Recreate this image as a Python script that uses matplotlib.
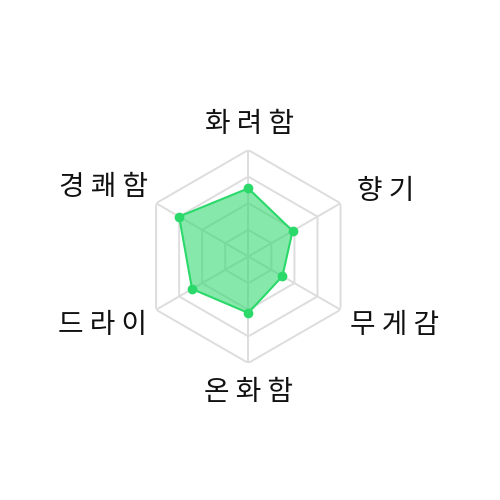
import numpy as np
import matplotlib
matplotlib.use("Agg")
import matplotlib.pyplot as plt

categories = ["화려함", "향기", "무게감", "온화함", "드라이", "경쾌함"]
values = [64, 48, 37, 53, 61, 75]
ring_levels = [25, 50, 75, 100]
max_value = 100

plt.rcParams['font.family'] = ['Noto Sans CJK KR', 'DejaVu Sans']

fig = plt.figure(figsize=(5, 5), dpi=100)
ax = fig.add_axes([0.2836, 0.274, 0.426, 0.426], projection='polar')
ax.set_theta_zero_location('N')
ax.set_theta_direction(-1)
ax.set_ylim(0, max_value)
ax.grid(False)
ax.spines['polar'].set_visible(False)
ax.set_xticks([])
ax.set_yticks([])
ax.patch.set_alpha(0)

n = len(categories)
angles = np.arange(n) * 2 * np.pi / n
closed = np.append(angles, angles[0])

grid_color = '#dddddd'
for lvl in ring_levels:
    ax.plot(closed, [lvl] * (n + 1), color=grid_color, lw=1.4, zorder=1)
for a in angles:
    ax.plot([a, a], [0, max_value], color=grid_color, lw=1.4, zorder=1)

green = '#2bd96b'
vals_closed = values + values[:1]
ax.fill(closed, vals_closed, color=green, alpha=0.57, zorder=2, lw=0)
ax.plot(closed, vals_closed, color=green, lw=1.5, zorder=3)
ax.plot(angles, values, 'o', color=green, ms=6, zorder=4)

def spaced(s):
    return " ".join(s)

fs = 20
# pixel offsets of each label from its outer vertex (x right, y up), alignment
label_specs = [
    ((1, 26), 'center'),
    ((16, 12), 'left'),
    ((9, -15), 'left'),
    ((0, -29), 'center'),
    ((-9, -15), 'right'),
    ((-8, 16), 'right'),
]
for a, cat, (off, ha) in zip(angles, categories, label_specs):
    ax.annotate(spaced(cat), xy=(a, max_value), xytext=off,
                textcoords='offset pixels', ha=ha, va='center',
                fontsize=fs, color='#111111', annotation_clip=False)

fig.savefig('out.png', dpi=100, facecolor='white')
